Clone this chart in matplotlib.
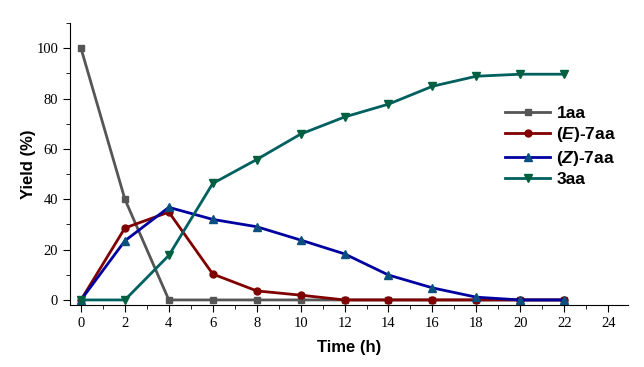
import matplotlib.pyplot as plt
from matplotlib.ticker import MultipleLocator

time_h = [0, 2, 4, 6, 8, 10, 12, 14, 16, 18, 20, 22]
y_1aa = [100, 40, 0, 0, 0, 0, 0, 0, 0, 0, 0, 0]
y_e7aa = [0, 28.6, 34.9, 10.3, 3.6, 1.9, 0, 0, 0, 0, 0, 0]
y_z7aa = [0, 23.5, 36.8, 32, 29.1, 23.8, 18.3, 9.9, 4.8, 1.1, 0, 0]
y_3aa = [0, 0, 17.7, 46.3, 55.8, 65.9, 72.7, 77.8, 84.9, 88.9, 89.7, 89.7]

plt.rcParams['mathtext.fontset'] = 'custom'
plt.rcParams['mathtext.it'] = 'Liberation Sans:italic:bold'
plt.rcParams['mathtext.rm'] = 'Liberation Sans:bold'

fig = plt.figure(figsize=(6.44, 3.67), dpi=100)
ax = fig.add_axes([0.1087, 0.169, 0.8663, 0.768])

ax.plot(time_h, y_1aa, c='#555555', lw=2, marker='s', ms=5, mfc='#555555', mec='#555555', label='1aa')
ax.plot(time_h, y_e7aa, c='#800000', lw=2, marker='o', ms=5, mfc='#800000', mec='#800000', label='($\\mathit{E}$)-7aa')
ax.plot(time_h, y_z7aa, c='#0000a0', lw=2, marker='^', ms=6, mfc='#0b4f7f', mec='#0b4f7f', label='($\\mathit{Z}$)-7aa')
ax.plot(time_h, y_3aa, c='#005f5f', lw=2, marker='v', ms=6, mfc='#006040', mec='#006040', label='3aa')

ax.set_xlim(-0.5, 24.9)
ax.set_ylim(-2, 110)
ax.xaxis.set_major_locator(MultipleLocator(2))
ax.xaxis.set_minor_locator(MultipleLocator(1))
ax.yaxis.set_major_locator(MultipleLocator(20))
ax.yaxis.set_minor_locator(MultipleLocator(10))
ax.spines['top'].set_visible(False)
ax.spines['right'].set_visible(False)
ax.tick_params(which='major', direction='out', length=5, labelsize=10.5)
ax.tick_params(which='minor', direction='out', length=3)
for lbl in ax.get_xticklabels() + ax.get_yticklabels():
    lbl.set_fontfamily('Liberation Serif')

ax.set_xlabel('Time (h)', fontsize=12, fontweight='bold', family='Liberation Sans', labelpad=7)
ax.set_ylabel('Yield (%)', fontsize=12, fontweight='bold', family='Liberation Sans', labelpad=0)

leg = ax.legend(loc='upper left', bbox_to_anchor=(0.752, 0.762), frameon=False,
                prop={'family': 'Liberation Sans', 'weight': 'bold', 'size': 12.5},
                handlelength=2.6, labelspacing=0.25, handletextpad=0.35)

fig.savefig('out.png', dpi=100)
